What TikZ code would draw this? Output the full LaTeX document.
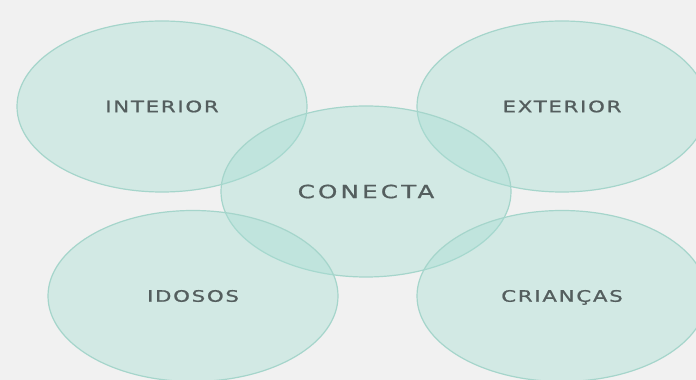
\documentclass[tikz,border=0pt]{standalone}
\usepackage{fontspec}
\usepackage{graphicx}
\usetikzlibrary{shapes.geometric}
\newfontfamily\labelfont{DejaVu Sans}[LetterSpace=8, FakeBold=0.8]
\newfontfamily\centerfont{DejaVu Sans}[LetterSpace=13, FakeBold=0.8]
\newcommand\widetxt[1]{\scalebox{1.35}[1]{#1}}
\definecolor{bgc}{RGB}{241,241,241}
\definecolor{fillc}{RGB}{168,222,212}
\definecolor{linec}{RGB}{165,213,203}
\definecolor{textc}{RGB}{84,94,94}
\tikzset{
  blob/.style={ellipse, draw=linec, line width=1.2pt, fill=fillc, fill opacity=0.42,
    text opacity=1, text=textc, minimum width=290pt, minimum height=171pt, inner sep=0pt,
    text height=11.5pt, text depth=0pt,
    font=\labelfont\fontsize{15.8}{18}\selectfont},
  centerblob/.style={blob, text height=13.3pt, font=\centerfont\fontsize{18.2}{20}\selectfont}
}
\begin{document}
\begin{tikzpicture}[x=1pt,y=1pt]
\fill[bgc] (0,0) rectangle (696,380);
\useasboundingbox (0,0) rectangle (696,380);
\node[blob] (interior) at (162,273.5) {\widetxt{INTERIOR}};
\node[blob] (exterior) at (562,273.5) {\widetxt{EXTERIOR}};
\node[centerblob] (conecta) at (366,188.5) {\widetxt{CONECTA}};
\node[blob] (idosos) at (193,84) {\widetxt{IDOSOS}};
\node[blob] (criancas) at (562,84) {\widetxt{CRIANÇAS}};
\end{tikzpicture}
\end{document}
